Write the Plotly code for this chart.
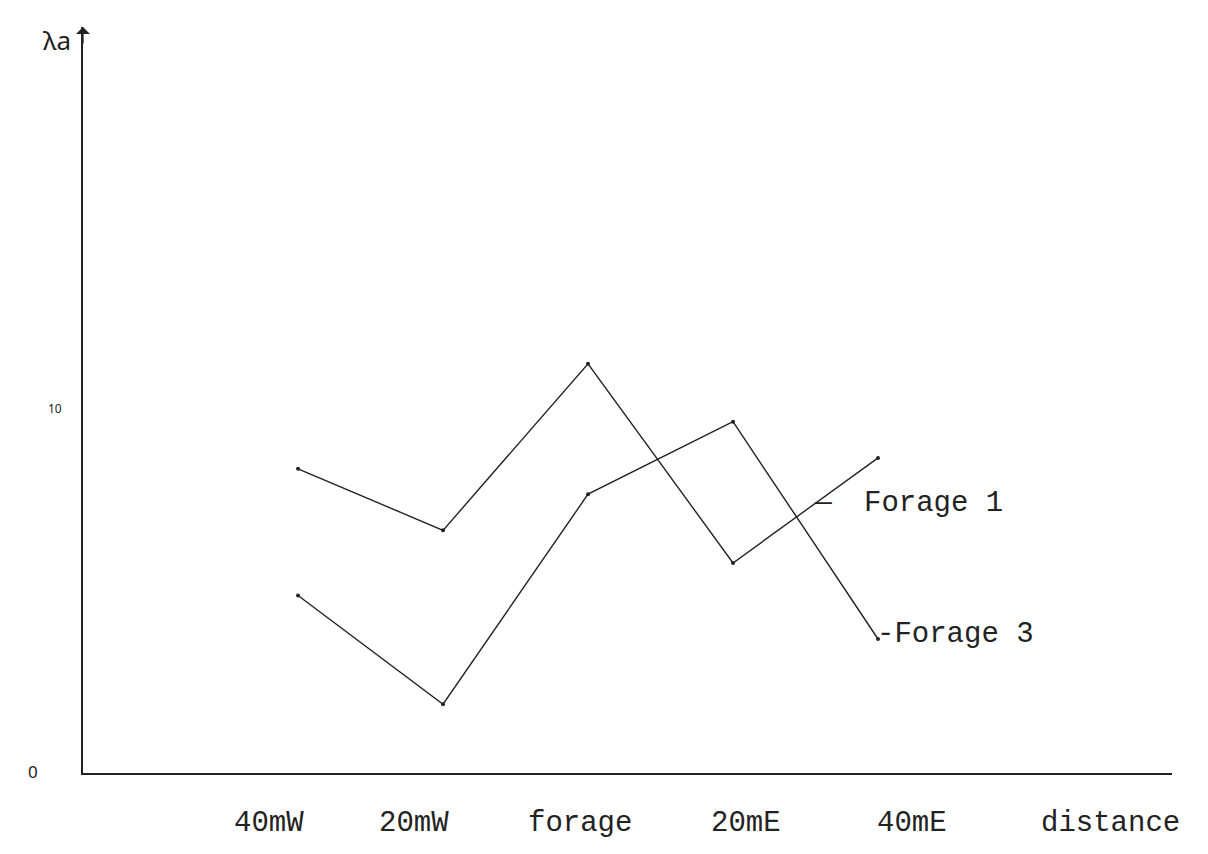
import plotly.graph_objects as go

# ---- data ----
distance_m = [-40, -20, 0, 20, 40]
x_labels = ["40mW", "20mW", "forage", "20mE", "40mE"]
forage1 = [8.4, 6.7, 11.3, 5.8, 8.7]
forage3 = [4.9, 1.9, 7.7, 9.7, 3.7]
series_names = ["Forage 1", "Forage 3"]
y_tick_vals = [0, 10]
y_tick_text = ["0", "10"]
x_title = "distance"
y_title = "λa"

# ---- style / layout ----
label_offset = [-4.0, -4.0, -1.1, 1.8, 4.7]   # typed labels sit slightly off the points
XMIN, XMAX = -69.66, 80.55
YMIN, YMAX = 0, 20.6
INK = "#222222"
MONO = "Liberation Mono, Courier New, monospace"
HAND = "Noto Sans, DejaVu Sans, sans-serif"

# the page body has an 8px margin, so the figure is 8px smaller
W, H = 1200, 846
ml, mr, mt, mb = 75, 36, 19, 81
PW, PH = W - ml - mr, H - mt - mb

fig = go.Figure()
for name, vals in zip(series_names, [forage1, forage3]):
    fig.add_trace(go.Scatter(
        x=distance_m, y=vals, name=name, mode="lines+markers",
        line=dict(color=INK, width=1.4),
        marker=dict(color=INK, size=4),
        showlegend=False, cliponaxis=False,
    ))

annotations = []
# x category labels (typed)
for d, off, lab in zip(distance_m, label_offset, x_labels):
    annotations.append(dict(
        x=d + off, y=0, xref="x", yref="y", text=lab, showarrow=False,
        xanchor="center", yanchor="middle", yshift=-50,
        font=dict(family=MONO, size=29, color=INK)))
# axis title on x
annotations.append(dict(
    x=72.0, y=0, xref="x", yref="y", text=x_title, showarrow=False,
    xanchor="center", yanchor="middle", yshift=-50,
    font=dict(family=MONO, size=29, color=INK)))
# y tick labels (handwritten)
ytick_xshift = [-50, -28]
ytick_size = [17, 12]
for v, t, xs, fs in zip(y_tick_vals, y_tick_text, ytick_xshift, ytick_size):
    annotations.append(dict(
        x=XMIN, y=v, xref="x", yref="y", text=t, showarrow=False,
        xanchor="center", yanchor="middle", xshift=xs, yshift=2,
        font=dict(family=HAND, size=fs, color=INK)))
# y axis title (paper coords, left of the axis)
annotations.append(dict(
    x=(49 - ml) / PW, y=(H - mb - 32) / PH, xref="paper", yref="paper",
    text=y_title, showarrow=False, xanchor="center", yanchor="middle",
    font=dict(family=HAND, size=26, color=INK)))
# arrow at top of y axis
annotations.append(dict(
    x=XMIN, y=YMAX, xref="x", yref="y", ax=0, ay=18, axref="pixel", ayref="pixel",
    text="", showarrow=True, arrowhead=1, arrowsize=1.8, arrowwidth=1.3,
    arrowcolor=INK))
# series labels
annotations.append(dict(
    x=37.8, y=7.45, xref="x", yref="y", text=series_names[0], showarrow=False,
    xanchor="left", yanchor="middle",
    font=dict(family=MONO, size=29, color=INK)))
annotations.append(dict(
    x=32.4, y=7.45, xref="x", yref="y", text="—", showarrow=False,
    xanchor="center", yanchor="middle", yshift=1,
    font=dict(family=MONO, size=28, color=INK)))
annotations.append(dict(
    x=distance_m[-1], y=forage3[-1], xref="x", yref="y", text="-" + series_names[1],
    showarrow=False, xanchor="left", yanchor="middle", xshift=-3, yshift=5,
    font=dict(family=MONO, size=29, color=INK)))

fig.update_layout(
    width=W, height=H,
    margin=dict(l=ml, r=mr, t=mt, b=mb, pad=0),
    paper_bgcolor="white", plot_bgcolor="white",
    annotations=annotations,
    xaxis=dict(range=[XMIN, XMAX], showgrid=False, zeroline=False,
               showticklabels=False, ticks="", showline=True,
               linecolor=INK, linewidth=1.8),
    yaxis=dict(range=[YMIN, YMAX], showgrid=False, zeroline=False,
               showticklabels=False, ticks="", showline=True,
               linecolor=INK, linewidth=1.8),
)

fig.write_html("out.html")
